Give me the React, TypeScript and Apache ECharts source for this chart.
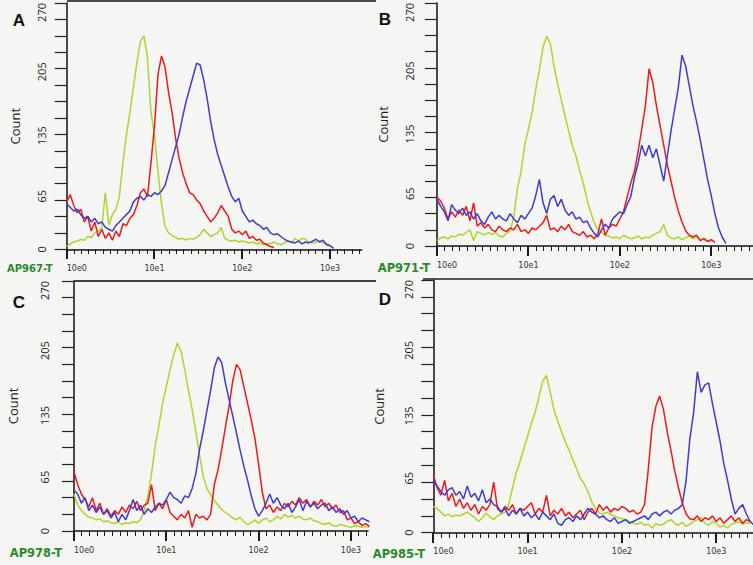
import React, { useEffect, useRef } from 'react';
import * as echarts from 'echarts';

// Histogram channels are spaced 0.04 decade apart on the log fluorescence axis.
const STEP = 0.04;
const Y_TICKS = [0, 18, 36, 54, 72, 90, 108, 126, 144, 162, 180, 198, 216, 234, 252, 270];
const Y_LABELS = [0, 65, 135, 205, 270];
const X_DECADES = [0, 1, 2, 3];
const MINOR_PER_DECADE = 12;
const PANEL_LETTERS = ['A', 'B', 'C', 'D'];
const SAMPLE_NAMES = ['AP967-T', 'AP971-T', 'AP978-T', 'AP985-T'];
const SERIES_NAMES = ['Isotype', 'Sample 1', 'Sample 2'];

// Panel A
const A_GREEN = [3, 6, 8, 9, 11, 10, 14, 13, 18, 20, 24, 62, 27, 38, 44, 58, 95, 125, 150, 178, 205, 228, 234, 210, 150, 125, 85, 50, 25, 18, 15, 13, 11, 12, 10, 12, 11, 13, 16, 22, 18, 14, 16, 18, 24, 12, 10, 9, 10, 8, 9, 8, 7, 8, 6, 7, 5, 6, 6, 8, 6, 5, 7, 9, 7, 12, 9, 12, 11, 8, 7, 8, 9, 7, 6, 5];
const A_RED = [52, 60, 48, 40, 44, 30, 36, 20, 30, 14, 22, 12, 18, 10, 20, 14, 28, 26, 34, 38, 48, 62, 66, 58, 95, 135, 192, 212, 200, 172, 150, 122, 100, 84, 72, 62, 60, 54, 50, 42, 36, 30, 34, 40, 48, 42, 36, 22, 18, 20, 16, 20, 12, 14, 10, 11, 7, 5, 3, 2];
const A_BLUE = [50, 46, 42, 44, 38, 34, 36, 30, 34, 28, 30, 24, 22, 20, 26, 30, 34, 38, 42, 52, 56, 58, 54, 60, 58, 62, 60, 64, 70, 84, 98, 112, 126, 145, 162, 176, 190, 204, 202, 186, 165, 140, 120, 104, 92, 80, 68, 58, 52, 56, 42, 36, 30, 32, 28, 26, 22, 24, 18, 16, 17, 14, 11, 9, 8, 7, 9, 6, 8, 7, 9, 11, 8, 10, 5, 4, 1];

// Panel B
const B_GREEN = [6, 9, 10, 8, 11, 10, 13, 12, 15, 18, 6, 16, 14, 12, 15, 13, 15, 11, 10, 14, 17, 32, 64, 83, 112, 130, 148, 174, 196, 221, 233, 225, 200, 180, 162, 145, 128, 112, 100, 84, 70, 52, 38, 26, 18, 15, 12, 11, 9, 10, 8, 12, 10, 8, 9, 11, 8, 10, 9, 12, 14, 16, 24, 12, 9, 8, 10, 7, 9, 11, 8, 10, 7, 9, 6, 5];
const B_RED = [54, 50, 42, 30, 38, 32, 40, 34, 44, 28, 48, 22, 26, 20, 24, 18, 16, 22, 18, 16, 20, 18, 24, 16, 18, 14, 20, 18, 22, 26, 34, 18, 20, 16, 22, 18, 24, 16, 14, 12, 16, 10, 12, 8, 14, 30, 12, 20, 24, 22, 30, 38, 54, 70, 83, 105, 130, 156, 197, 182, 156, 134, 112, 90, 72, 54, 39, 27, 17, 12, 10, 12, 6, 8, 5, 7, 4];
const B_BLUE = [52, 44, 38, 28, 46, 40, 36, 42, 34, 38, 30, 36, 28, 24, 32, 38, 30, 34, 30, 28, 36, 30, 26, 34, 30, 36, 42, 56, 74, 48, 36, 52, 56, 44, 52, 40, 34, 38, 30, 32, 26, 28, 20, 14, 10, 18, 24, 20, 30, 34, 38, 36, 46, 55, 76, 92, 112, 100, 112, 98, 108, 90, 72, 100, 128, 152, 176, 212, 200, 178, 156, 138, 118, 96, 74, 56, 36, 20, 10, 3];

// Panel C
const C_GREEN = [40, 28, 22, 18, 15, 14, 12, 13, 10, 11, 9, 8, 10, 7, 9, 8, 10, 9, 12, 22, 38, 62, 92, 114, 138, 156, 174, 190, 203, 194, 174, 152, 131, 107, 82, 59, 46, 39, 33, 28, 23, 20, 17, 14, 12, 15, 10, 7, 9, 12, 8, 12, 14, 10, 12, 16, 13, 18, 15, 17, 14, 16, 13, 12, 14, 11, 10, 8, 7, 9, 6, 5, 7, 6, 5, 4, 6, 5, 4, 5, 4];
const C_RED = [64, 50, 40, 34, 26, 36, 22, 30, 18, 24, 16, 22, 18, 26, 20, 28, 24, 32, 22, 28, 30, 50, 22, 30, 24, 34, 20, 16, 12, 18, 14, 22, 4, 18, 14, 16, 12, 18, 50, 66, 88, 112, 135, 162, 180, 174, 156, 138, 120, 100, 72, 42, 24, 28, 20, 26, 22, 30, 26, 32, 28, 36, 30, 34, 26, 32, 28, 34, 26, 30, 24, 28, 20, 22, 12, 14, 8, 10, 6, 8, 5];
const C_BLUE = [44, 40, 30, 36, 22, 28, 20, 26, 18, 22, 14, 20, 10, 18, 12, 22, 34, 22, 28, 18, 24, 20, 26, 30, 28, 34, 42, 36, 34, 30, 38, 36, 46, 62, 88, 108, 130, 152, 176, 188, 182, 160, 142, 124, 106, 87, 70, 55, 38, 24, 16, 22, 30, 40, 30, 36, 28, 24, 30, 20, 26, 34, 22, 32, 26, 30, 24, 28, 30, 22, 26, 20, 24, 18, 22, 14, 16, 10, 14, 12, 10];

// Panel D
const D_GREEN = [28, 26, 22, 18, 20, 17, 19, 18, 20, 22, 19, 16, 12, 16, 21, 17, 14, 18, 20, 22, 30, 48, 64, 76, 90, 103, 117, 129, 145, 162, 168, 150, 131, 119, 108, 97, 88, 78, 68, 58, 52, 44, 33, 26, 21, 20, 22, 19, 18, 16, 15, 14, 12, 10, 9, 11, 8, 9, 5, 10, 8, 9, 12, 14, 10, 8, 11, 7, 9, 12, 14, 16, 10, 8, 12, 10, 6, 8, 5, 9, 10, 12, 9, 11, 10];
const D_RED = [62, 48, 40, 56, 34, 42, 28, 36, 26, 32, 24, 30, 20, 28, 24, 30, 54, 26, 22, 28, 24, 30, 20, 26, 24, 28, 32, 20, 26, 22, 40, 18, 24, 20, 26, 18, 22, 16, 20, 24, 14, 22, 26, 20, 30, 24, 28, 22, 26, 24, 28, 26, 22, 24, 20, 22, 30, 68, 113, 135, 146, 132, 108, 88, 66, 48, 32, 20, 15, 14, 18, 12, 16, 14, 18, 12, 16, 10, 14, 18, 12, 16, 10, 14, 12];
const D_BLUE = [56, 50, 44, 40, 46, 48, 40, 44, 36, 50, 38, 42, 34, 46, 32, 36, 30, 28, 22, 26, 18, 24, 20, 26, 18, 22, 16, 20, 14, 22, 18, 14, 20, 10, 8, 14, 16, 12, 18, 14, 20, 26, 22, 20, 16, 18, 14, 12, 16, 10, 12, 14, 10, 12, 14, 16, 18, 14, 20, 22, 18, 22, 24, 20, 24, 26, 30, 55, 100, 128, 172, 150, 158, 160, 138, 118, 98, 74, 56, 36, 20, 26, 30, 20, 12, 8];

const PANEL_DATA = [
  [A_GREEN, A_RED, A_BLUE],
  [B_GREEN, B_RED, B_BLUE],
  [C_GREEN, C_RED, C_BLUE],
  [D_GREEN, D_RED, D_BLUE],
];

const COLORS = ['#acd62a', '#f01818', '#3c3cd4'];

const LAYOUT = [
  { left: 66.7, top: 1.7, width: 295, height: 247.6, xMax: 3.36, labelMargin: 25, nameGap: 45, letter: [19, 20], sample: [52.5, 268.5, 10] },
  { left: 437, top: 0, width: 316, height: 246, xMax: 3.457, labelMargin: 28, nameGap: 48, letter: [385, 19.5], sample: [430, 267.5, 11.5] },
  { left: 74, top: 281, width: 294, height: 250, xMax: 3.185, labelMargin: 30, nameGap: 55, letter: [19, 302], sample: [62, 553, 11.5] },
  { left: 433.3, top: 280, width: 319.7, height: 252.7, xMax: 3.39, labelMargin: 25, nameGap: 48, letter: [385, 299], sample: [425, 553.5, 11.5] },
];

function toPoints(vals: number[]): number[][] {
  return vals.map((v, i) => [Math.round(i * STEP * 100) / 100, v]);
}

// decade positions of the evenly spaced minor ticks (12 per decade)
function minorTicks(xMax: number): number[] {
  const out: number[] = [];
  for (let k = 0; k / MINOR_PER_DECADE <= xMax; k++) {
    if (k % MINOR_PER_DECADE !== 0) out.push(k / MINOR_PER_DECADE);
  }
  return out;
}

export default function App() {
  const ref = useRef<HTMLDivElement>(null);

  useEffect(() => {
    if (!ref.current) return;
    const chart = echarts.init(ref.current, undefined, { renderer: 'svg' });

    const grid: any[] = [];
    const xAxis: any[] = [];
    const yAxis: any[] = [];
    const series: any[] = [];
    const graphic: any[] = [];

    LAYOUT.forEach((p, i) => {
      grid.push({ left: p.left, top: p.top, width: p.width, height: p.height, containLabel: false });
      xAxis.push({
        type: 'value',
        gridIndex: i,
        position: 'bottom',
        min: 0,
        max: p.xMax,
        axisLine: { show: true, onZero: false, lineStyle: { color: '#111', width: 1.5 } },
        axisTick: { show: false },
        axisLabel: {
          show: true,
          customValues: X_DECADES,
          formatter: (v: number) => '10e' + Math.round(v),
          margin: 15,
          fontSize: 8,
          fontFamily: 'DejaVu Sans',
          color: '#333',
          alignMinLabel: 'left',
        },
        splitLine: { show: false },
      });
      yAxis.push({
        type: 'value',
        gridIndex: i,
        min: 0,
        max: 270,
        name: 'Count',
        nameLocation: 'middle',
        nameRotate: 90,
        nameGap: p.nameGap,
        nameTextStyle: { fontSize: 13, fontFamily: 'Open Sans', color: '#222' },
        axisLine: { show: true, onZero: false, lineStyle: { color: '#111', width: 1.5 } },
        axisTick: { show: true, customValues: Y_TICKS, length: 12, lineStyle: { color: '#222', width: 1.2 } },
        axisLabel: {
          show: true,
          customValues: Y_LABELS,
          rotate: 90,
          align: 'right',
          verticalAlign: 'middle',
          alignMinLabel: 'center',
          margin: p.labelMargin,
          fontSize: 11,
          fontFamily: 'Open Sans',
          color: '#222',
        },
        splitLine: { show: false },
      });
      PANEL_DATA[i].forEach((vals, k) => {
        series.push({
          type: 'line',
          name: SERIES_NAMES[k],
          xAxisIndex: i,
          yAxisIndex: i,
          data: toPoints(vals),
          showSymbol: false,
          symbol: 'none',
          lineStyle: { color: COLORS[k], width: 1.5 },
          itemStyle: { color: COLORS[k] },
          z: 2 + k,
        });
      });
      graphic.push({
        type: 'text',
        x: p.letter[0],
        y: p.letter[1],
        style: {
          text: PANEL_LETTERS[i],
          fill: '#111',
          fontSize: 17,
          fontWeight: 'bold',
          fontFamily: 'Liberation Sans',
          align: 'center',
          verticalAlign: 'middle',
        },
      });
      graphic.push({
        type: 'text',
        x: p.sample[0],
        y: p.sample[1],
        style: {
          text: SAMPLE_NAMES[i],
          fill: '#2a8a2a',
          fontSize: p.sample[2],
          fontWeight: 'bold',
          fontFamily: 'DejaVu Sans',
          align: 'right',
          verticalAlign: 'middle',
        },
      });
    });

    graphic.push(
      { type: 'line', shape: { x1: 67, y1: 1, x2: 376, y2: 1 }, style: { stroke: '#111', lineWidth: 1.5 } },
      { type: 'line', shape: { x1: 74, y1: 281, x2: 376, y2: 281 }, style: { stroke: '#444', lineWidth: 2 } },
      { type: 'line', shape: { x1: 423, y1: 279, x2: 753, y2: 279 }, style: { stroke: '#555', lineWidth: 2 } },
    );

    chart.setOption({
      animation: false,
      backgroundColor: '#f5f5f4',
      grid,
      xAxis,
      yAxis,
      series,
      graphic,
    });

    // x-axis tick marks as small filled bars, positioned through each grid's own x scale
    const ticks: any[] = [];
    LAYOUT.forEach((p, i) => {
      const addTick = (v: number, len: number, w: number) => {
        const pt = chart.convertToPixel({ xAxisIndex: i, yAxisIndex: i }, [v, 0]) as number[];
        if (!pt || !isFinite(pt[0]) || !isFinite(pt[1])) return;
        ticks.push({
          type: 'rect',
          z: 100,
          silent: true,
          shape: { x: Math.round(pt[0] - w / 2), y: Math.round(pt[1]), width: w, height: len },
          style: { fill: '#1a1a1a' },
        });
      };
      minorTicks(p.xMax).forEach((v) => addTick(v, 5, 1));
      X_DECADES.forEach((v) => addTick(v, 10, 2));
    });
    chart.setOption({ graphic: graphic.concat(ticks) });

    return () => chart.dispose();
  }, []);

  return (
    <div
      ref={ref}
      style={{ position: 'fixed', left: 0, top: 0, width: 753, height: 565, background: '#f5f5f4' }}
    />
  );
}
